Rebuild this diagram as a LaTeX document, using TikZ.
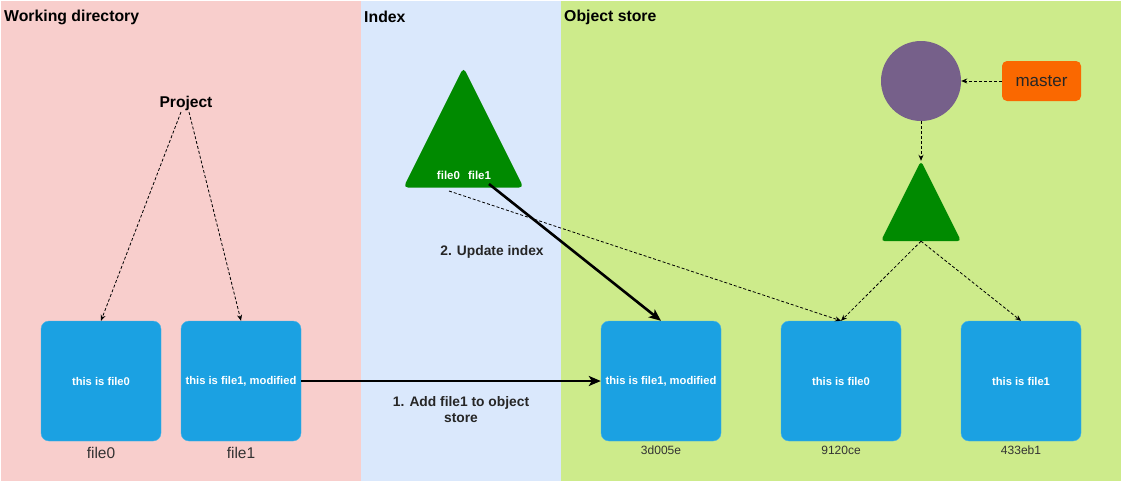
\documentclass[tikz,border=0pt]{standalone}
\usepackage{fontspec}
\setmainfont{Liberation Sans}
\usetikzlibrary{arrows.meta,calc}
\definecolor{wdpink}{HTML}{F8CECC}
\definecolor{idxblue}{HTML}{DAE8FC}
\definecolor{objgreen}{HTML}{CDEB8B}
\definecolor{blobblue}{HTML}{1BA1E2}
\definecolor{treegreen}{HTML}{008A00}
\definecolor{commitpurple}{HTML}{76608A}
\definecolor{reforange}{HTML}{FA6800}
\definecolor{labelgray}{HTML}{333333}
\tikzset{
  x=1pt, y=-1pt,
  regtitle/.style={anchor=west, font=\fontsize{15.8}{18}\selectfont\bfseries, inner sep=0pt},
  blob/.style={fill=blobblue, draw=blobblue!80!white, rounded corners=8pt, minimum width=120pt, minimum height=120pt, inner sep=0pt, text=white, font=\fontsize{11.2}{13}\selectfont\bfseries},
  bloblabel/.style={inner sep=0pt, text=labelgray, font=\fontsize{15.5}{17}\selectfont},
  hashlabel/.style={inner sep=0pt, text=labelgray, font=\fontsize{12}{14}\selectfont},
  ptr/.style={densely dashed, line width=0.8pt, -{Stealth[length=6pt,width=5pt]}},
  thick arrow/.style={line width=2.6pt, -{Stealth[length=12pt,width=10pt,inset=3pt]}},
  edgelabel/.style={font=\fontsize{13.8}{16}\selectfont\bfseries, text=black!85, align=center, inner sep=0pt},
  tribox/.style={minimum width=#1, minimum height=#1, inner sep=0pt},
}
\begin{document}
\begin{tikzpicture}
\useasboundingbox (0,0) rectangle (1123,482);
% regions
\fill[wdpink] (1,1) rectangle (361,481);
\fill[idxblue] (361,1) rectangle (561,481);
\fill[objgreen] (561,1) rectangle (1121,481);
\node[regtitle] (twd) at (4,17) {Working directory};
\node[regtitle] (tidx) at (364,17) {Index};
\node[regtitle] (tobj) at (564,17) {Object store};

% project
\node[font=\fontsize{15.6}{18}\selectfont\bfseries, inner sep=1pt] (proj) at (186,103) {Project};

% working dir blobs
\node[blob] (wf0) at (101,381) {this is file0};
\node[blob] (wf1) at (241,381) {this is file1, modified};
\node[bloblabel] (lwf0) at (101,453) {file0};
\node[bloblabel] (lwf1) at (241,453) {file1};

% object store blobs
\node[blob] (o1) at (661,381) {this is file1, modified};
\node[blob] (o2) at (841,381) {this is file0};
\node[blob] (o3) at (1021,381) {this is file1};
\node[hashlabel] (lo1) at (661,450) {3d005e};
\node[hashlabel] (lo2) at (841,450) {9120ce};
\node[hashlabel] (lo3) at (1021,450) {433eb1};

% index tree
\node[tribox=120pt] (itree) at (463.5,127.5) {};
\fill[treegreen, rounded corners=5pt]
  ($(itree.south west)!0.5!(itree.south east)$) -- (itree.south east) -- (itree.north) -- (itree.south west) -- cycle;
\node[text=white, font=\fontsize{11.5}{13}\selectfont\bfseries, inner sep=0pt] (itext) at (464,175) {file0\hspace{8pt}file1};

% object tree
\node[tribox=80pt] (otree) at (921,201) {};
\fill[treegreen, rounded corners=4pt]
  ($(otree.south west)!0.5!(otree.south east)$) -- (otree.south east) -- (otree.north) -- (otree.south west) -- cycle;

% commit
\node[circle, fill=commitpurple, minimum size=80pt, inner sep=0pt] (commit) at (921,81) {};

% master ref
\node[fill=reforange, rounded corners=5pt, minimum width=79pt, minimum height=40pt, inner sep=0pt, font=\fontsize{17}{19}\selectfont, text=black!85] (master) at (1041.5,81) {master};

% connectors
\coordinate (pj0) at (181,112);
\coordinate (pj1) at (189,112);
\draw[ptr] (pj0) -- (wf0.north);
\draw[ptr] (pj1) -- (wf1.north);

\draw[thick arrow] (wf1.east) -- (o1.west);
\node[edgelabel] (l1) at (461,410) {1. Add file1 to object\\store};

\coordinate (i1) at (489,184);
\coordinate (i0) at (449,191);
\draw[thick arrow] (i1) -- (o1.north);
\node[edgelabel] (l2) at (492,252) {2. Update index};
\draw[ptr] (i0) -- (o2.north);

\draw[ptr] (otree.south) -- (o2.north);
\draw[ptr] (otree.south) -- (o3.north);
\draw[ptr] (commit.south) -- (otree.north);
\draw[ptr] (master.west) -- (commit.east);
\end{tikzpicture}
\end{document}
